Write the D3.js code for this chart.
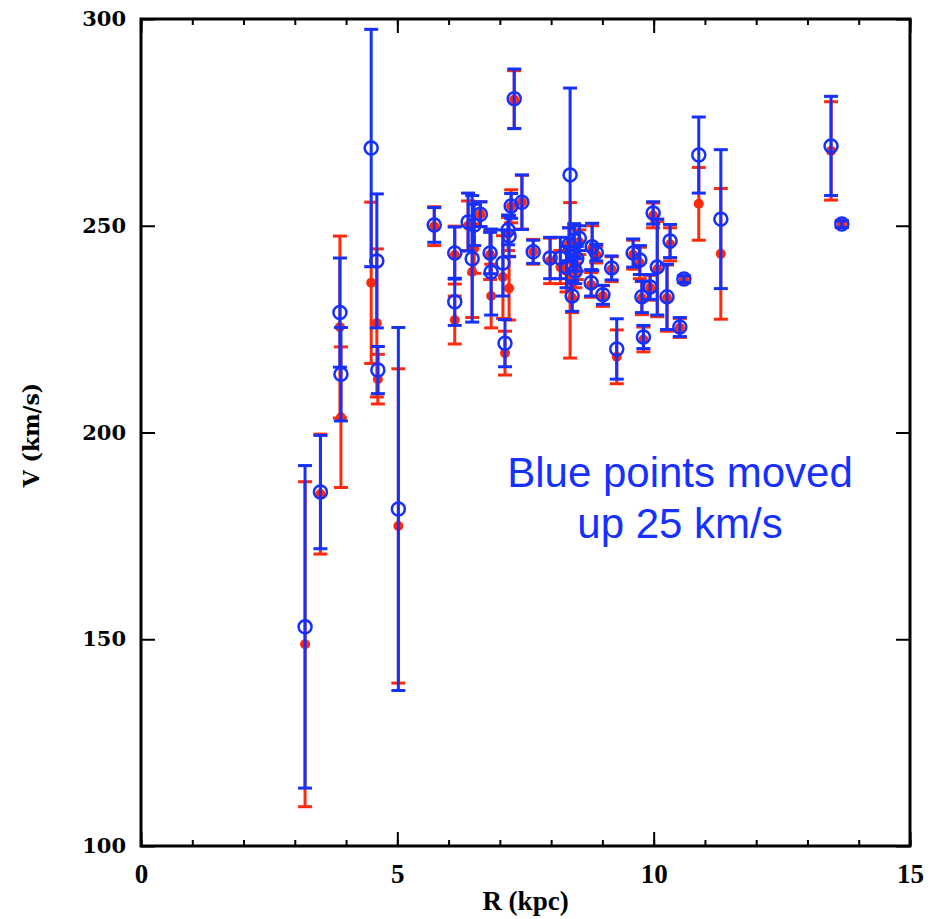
<!DOCTYPE html>
<html>
<head>
<meta charset="utf-8">
<script src="https://cdn.jsdelivr.net/npm/d3@7"></script>
<style>
  body { margin: 0; background: #fff; }
  svg { display: block; }
</style>
</head>
<body>
<svg></svg>
<script>
// galactocentric radius (kpc)
var radius = [3.20, 3.50, 3.88, 3.90, 4.49, 4.60, 4.62, 5.02, 5.72, 6.12,
  6.12, 6.38, 6.46, 6.50, 6.62, 6.81, 6.83, 7.06, 7.10, 7.16,
  7.18, 7.22, 7.28, 7.43, 7.65, 7.98, 8.18, 8.30, 8.35, 8.37,
  8.41, 8.45, 8.47, 8.50, 8.55, 8.78, 8.80, 8.88, 9.01, 9.18,
  9.28, 9.60, 9.73, 9.77, 9.80, 9.93, 9.99, 10.07, 10.26, 10.32,
  10.51, 10.59, 10.88, 11.31, 13.46, 13.67];

// red series: velocity and error (km/s)
var redV = [148.8, 185.1, 225.5, 203.7, 236.2, 226.5, 212.9, 177.4, 249.9, 242.9,
  227.2, 250.0, 238.8, 244.5, 252.8, 243.0, 233.0, 237.6, 219.2, 248.0,
  234.9, 254.7, 280.5, 255.7, 243.7, 241.5, 240.0, 239.0, 245.5, 236.8,
  232.5, 246.0, 238.0, 240.0, 246.0, 235.7, 244.5, 243.0, 233.0, 239.5,
  218.3, 243.0, 241.0, 232.5, 222.5, 235.0, 252.5, 239.5, 232.5, 245.5,
  225.3, 237.0, 255.3, 243.2, 268.1, 250.4];
var redErr = [39.3, 14.5, 22.0, 17.0, 19.5, 17.9, 6.0, 38.0, 4.7, 7.0,
  5.8, 6.0, 11.0, 6.0, 3.0, 6.0, 7.7, 10.0, 5.3, 4.0,
  7.7, 4.0, 7.0, 6.5, 3.0, 5.5, 4.0, 5.0, 4.0, 18.8,
  3.5, 4.0, 3.0, 3.0, 3.0, 3.0, 5.5, 2.0, 2.5, 3.0,
  6.5, 3.5, 3.8, 4.0, 3.0, 3.0, 3.0, 11.5, 8.0, 4.0,
  2.3, 0.8, 8.8, 15.8, 11.9, 0.8];

// blue series (already moved up 25 km/s): velocity and error
var blueV = [153.0, 185.6, 229.0, 214.1, 268.8, 241.5, 215.1, 181.5, 250.2, 243.4,
  231.6, 250.9, 242.0, 250.2, 252.8, 243.4, 238.8, 241.0, 221.6, 249.0,
  247.5, 254.8, 280.7, 255.7, 243.7, 242.2, 242.2, 240.0, 245.5, 262.3,
  233.0, 246.5, 239.0, 242.0, 247.0, 236.2, 244.9, 243.5, 233.3, 239.8,
  220.2, 243.4, 241.7, 232.8, 223.1, 235.2, 253.1, 240.0, 232.8, 246.3,
  225.5, 237.1, 267.1, 251.6, 269.3, 250.4];
var blueErr = [39.0, 13.7, 13.2, 11.3, 28.7, 16.2, 5.7, 43.9, 4.2, 6.3,
  5.7, 7.0, 15.3, 5.0, 3.0, 5.0, 10.4, 8.0, 5.7, 3.6,
  5.0, 3.0, 7.2, 6.6, 2.8, 5.0, 5.0, 5.0, 4.0, 21.0,
  3.7, 4.0, 3.0, 3.0, 3.0, 3.2, 5.7, 2.0, 2.3, 2.9,
  7.3, 3.4, 3.5, 3.8, 2.8, 3.0, 2.7, 11.6, 7.9, 4.0,
  2.3, 0.8, 9.2, 16.8, 12.0, 0.8];

var xMajor = [0, 5, 10, 15];
var xMinor = d3.range(0, 16, 1);
var yMajor = [100, 150, 200, 250, 300];

var width = 933;
var height = 919;
var margin = { top: 19, right: 23, bottom: 73, left: 141 };
var w = width - margin.left - margin.right;
var h = height - margin.top - margin.bottom;

var RED = "#ff2a0c";
var BLUE = "#1530ff";

var svg = d3.select("svg")
  .attr("width", width)
  .attr("height", height);

var plot = svg.append("g")
  .attr("transform", "translate(" + margin.left + "," + margin.top + ")");

var x = d3.scaleLinear().domain([0, 15]).range([0, w]);
var y = d3.scaleLinear().domain([100, 300]).range([h, 0]);

// ticks point inward on all four sides
function addAxis(axis, tx, ty) {
  var g = plot.append("g")
    .attr("transform", "translate(" + tx + "," + ty + ")")
    .call(axis);
  g.select(".domain").remove();
  g.selectAll(".tick line").attr("stroke", "#000").attr("stroke-width", 2);
  return g;
}

addAxis(d3.axisBottom(x).tickValues(xMinor).tickSize(-6).tickFormat(""), 0, h);
addAxis(d3.axisTop(x).tickValues(xMinor).tickSize(-6).tickFormat(""), 0, 0);
addAxis(d3.axisTop(x).tickValues(xMajor).tickSize(-14).tickFormat(""), 0, 0);
addAxis(d3.axisRight(y).tickValues(yMajor).tickSize(-14).tickFormat(""), w, 0);

var xAx = addAxis(d3.axisBottom(x).tickValues(xMajor).tickSize(-14).tickPadding(18)
  .tickFormat(d3.format("d")), 0, h);
xAx.selectAll("text")
  .attr("fill", "#000")
  .style("font-family", "'Liberation Serif', serif")
  .style("font-weight", "bold")
  .style("font-size", "27px");

var yAx = addAxis(d3.axisLeft(y).tickValues(yMajor).tickSize(-14).tickPadding(15)
  .tickFormat(d3.format("d")), 0, 0);
yAx.selectAll("text")
  .attr("fill", "#000")
  .style("font-family", "'DejaVu Serif', serif")
  .style("font-weight", "bold")
  .style("font-size", "21px");

// frame
plot.append("rect")
  .attr("width", w)
  .attr("height", h)
  .attr("fill", "none")
  .attr("stroke", "#000")
  .attr("stroke-width", 3);

var pts = radius.map(function(r, i) {
  return { r: r, rv: redV[i], re: redErr[i], bv: blueV[i], be: blueErr[i] };
});

function errorBars(key, err, color) {
  var g = plot.append("g")
    .attr("stroke", color)
    .attr("stroke-width", 3);
  g.selectAll(".bar").data(pts).enter().append("line")
    .attr("x1", function(d) { return x(d.r); })
    .attr("x2", function(d) { return x(d.r); })
    .attr("y1", function(d) { return y(d[key] - d[err]); })
    .attr("y2", function(d) { return y(d[key] + d[err]); });
  [-1, 1].forEach(function(s) {
    g.selectAll(".cap" + s).data(pts).enter().append("line")
      .attr("x1", function(d) { return x(d.r) - 7; })
      .attr("x2", function(d) { return x(d.r) + 7; })
      .attr("y1", function(d) { return y(d[key] + s * d[err]); })
      .attr("y2", function(d) { return y(d[key] + s * d[err]); });
  });
}

errorBars("rv", "re", RED);
plot.append("g").selectAll("circle")
  .data(pts).enter().append("circle")
  .attr("cx", function(d) { return x(d.r); })
  .attr("cy", function(d) { return y(d.rv); })
  .attr("r", 5)
  .attr("fill", RED);

errorBars("bv", "be", BLUE);
plot.append("g").selectAll("circle")
  .data(pts).enter().append("circle")
  .attr("cx", function(d) { return x(d.r); })
  .attr("cy", function(d) { return y(d.bv); })
  .attr("r", 6.5)
  .attr("fill", "none")
  .attr("stroke", BLUE)
  .attr("stroke-width", 2.5);

// axis titles
svg.append("text")
  .attr("x", margin.left + x(7.5))
  .attr("y", 910)
  .attr("text-anchor", "middle")
  .style("font-family", "'Liberation Serif', serif")
  .style("font-weight", "bold")
  .style("font-size", "27px")
  .text("R (kpc)");

svg.append("text")
  .attr("transform", "translate(39,435) rotate(-90)")
  .attr("text-anchor", "middle")
  .style("font-family", "'DejaVu Serif', serif")
  .style("font-weight", "bold")
  .style("font-size", "22px")
  .text("V (km/s)");

// annotation
var note = svg.append("text")
  .attr("text-anchor", "middle")
  .attr("fill", BLUE)
  .style("font-family", "'Liberation Sans', Arial, sans-serif")
  .style("font-size", "42px");
note.append("tspan").attr("x", 680).attr("y", 487).text("Blue points moved");
note.append("tspan").attr("x", 680).attr("y", 538).text("up 25 km/s");
</script>
</body>
</html>
